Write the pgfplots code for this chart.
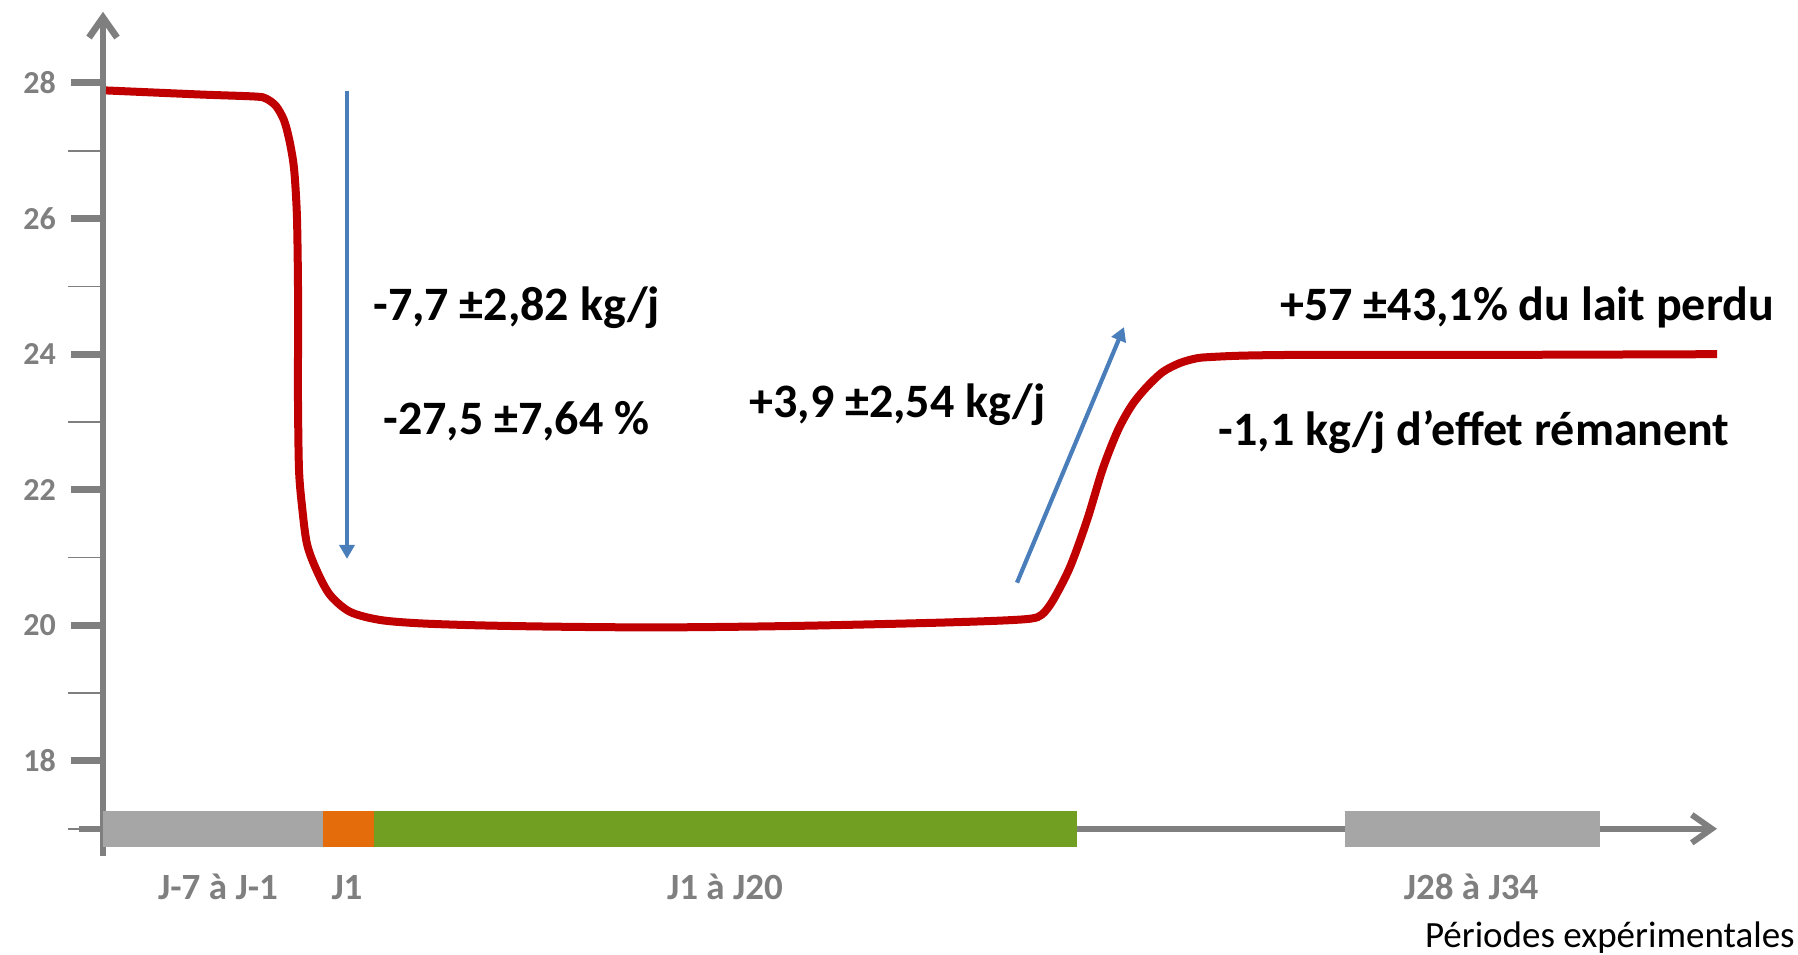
\documentclass[border=0pt]{standalone}
\usepackage{pgfplots}
\pgfplotsset{compat=1.18}
\usepackage{fontspec}
\setmainfont{Carlito}
\usetikzlibrary{arrows.meta}
\definecolor{axgray}{HTML}{7F7F7F}
\definecolor{bargray}{HTML}{A6A6A6}
\definecolor{barorange}{HTML}{E46C0A}
\definecolor{bargreen}{HTML}{709F22}
\definecolor{curvered}{HTML}{C00000}
\definecolor{arrowblue}{HTML}{4A7EBB}

\pgfplotstableread{
x y
106 27.89
200 27.83
255 27.80
266 27.77
276 27.66
284 27.45
289 27.18
293 26.86
295 26.57
297 26.00
298 25.00
298 24.00
298 23.30
299 22.30
302 21.76
307 21.20
317 20.80
330 20.45
350 20.20
380 20.08
420 20.03
480 20.00
560 19.98
652 19.97
740 19.98
824 20.00
939 20.04
1000 20.07
1031 20.10
1042 20.16
1053 20.37
1070 20.86
1087 21.55
1103 22.32
1118 22.88
1132 23.25
1147 23.52
1163 23.74
1180 23.87
1197 23.94
1213 23.96
1247 23.98
1313 23.99
1500 23.99
1717 24.00
}\milk

\begin{document}
\begin{tikzpicture}
\begin{axis}[
  x=0.5pt, y=33.9pt,
  xmin=103, xmax=1717, ymin=16.60, ymax=29.05,
  axis x line=none,
  axis y line=left,
  y axis line style={draw=axgray, line width=3.3pt, -{Straight Barb[length=10pt,width=14pt]}},
  clip=false,
  xtick=\empty,
  ytick={18,20,...,28},
  minor ytick={17,19,...,27},
  tick align=outside,
  major tick length=16pt,
  minor tick length=17.5pt,
  major tick style={draw=axgray, line width=3.5pt},
  minor tick style={draw=axgray, line width=0.8pt},
  /pgf/number format/assume math mode=true,
  yticklabel style={font=\bfseries\fontsize{16}{18}\selectfont, text=axgray, xshift=-4pt},
]
% x axis line
\addplot[draw=axgray, line width=3pt, -{Straight Barb[length=10pt,width=14pt]}] coordinates {(79,17) (1717,17)};
% period bars
\addplot[fill=bargray, draw=none] coordinates {(103,16.73) (323,16.73) (323,17.26) (103,17.26)} -- cycle;
\addplot[fill=barorange, draw=none] coordinates {(323,16.73) (374,16.73) (374,17.26) (323,17.26)} -- cycle;
\addplot[fill=bargreen, draw=none] coordinates {(374,16.73) (1077,16.73) (1077,17.26) (374,17.26)} -- cycle;
\addplot[fill=bargray, draw=none] coordinates {(1345,16.73) (1600,16.73) (1600,17.26) (1345,17.26)} -- cycle;
% milk curve
\addplot[curvered, line width=4pt, smooth, tension=0.5, line join=round] table {\milk};
% blue arrows
\addplot[arrowblue, line width=2.1pt, -{Triangle[length=7pt,width=7.5pt]}] coordinates {(347,27.88) (347,20.98)};
\addplot[arrowblue, line width=2.1pt, -{Triangle[length=7pt,width=7.5pt]}] coordinates {(1017,20.63) (1124,24.40)};
% annotations
\node[anchor=base west, font=\bfseries\fontsize{24}{28}\selectfont, inner sep=0pt] at (axis cs:373,24.50) {-7,7 ±2,82 kg/j};
\node[anchor=base west, font=\bfseries\fontsize{24}{28}\selectfont, inner sep=0pt] at (axis cs:383,22.81) {-27,5 ±7,64 \%};
\node[anchor=base west, font=\bfseries\fontsize{24}{28}\selectfont, inner sep=0pt] at (axis cs:749,23.06) {+3,9 ±2,54 kg/j};
\node[anchor=base west, font=\bfseries\fontsize{24}{28}\selectfont, inner sep=0pt] at (axis cs:1280,24.49) {+57 ±43,1\% du lait perdu};
\node[anchor=base east, font=\bfseries\fontsize{24}{28}\selectfont, inner sep=0pt] at (axis cs:1730,22.66) {-1,1 kg/j d’effet rémanent};
% period labels
\node[anchor=base, font=\bfseries\fontsize{18.5}{20}\selectfont, text=axgray, inner sep=0pt] at (axis cs:218,15.95) {J-7 à J-1};
\node[anchor=base, font=\bfseries\fontsize{18.5}{20}\selectfont, text=axgray, inner sep=0pt] at (axis cs:347,15.95) {J1};
\node[anchor=base, font=\bfseries\fontsize{18.5}{20}\selectfont, text=axgray, inner sep=0pt] at (axis cs:725,15.95) {J1 à J20};
\node[anchor=base, font=\bfseries\fontsize{18.5}{20}\selectfont, text=axgray, inner sep=0pt] at (axis cs:1471,15.95) {J28 à J34};
\node[anchor=base east, font=\fontsize{18.5}{20}\selectfont, inner sep=0pt] at (axis cs:1795,15.25) {Périodes expérimentales};
% page extent
\path (axis cs:0,29.224) rectangle (axis cs:1798,15.153);
\end{axis}
\end{tikzpicture}
\end{document}
